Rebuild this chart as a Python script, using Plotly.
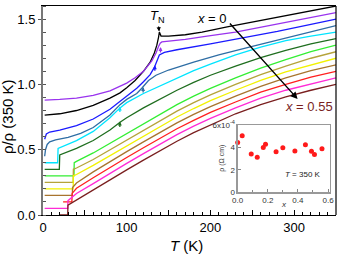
import plotly.graph_objects as go

# ---------------- main panel data: rho/rho(350 K), curves offset by 0.05 ----------------
T_x000 = [2, 10, 20, 40, 60, 80, 92, 100, 110, 120, 128, 133, 136, 138, 139, 141, 150, 170, 190, 220, 260, 300, 350]
R_x000 = [0.765, 0.767, 0.775, 0.80, 0.84, 0.895, 0.935, 0.975, 1.03, 1.10, 1.17, 1.24, 1.30, 1.36, 1.40, 1.37, 1.37, 1.38, 1.40, 1.44, 1.49, 1.54, 1.60]

T_x003 = [2, 10, 20, 40, 60, 80, 92, 100, 110, 120, 130, 135, 138, 140, 142, 150, 170, 196, 230, 270, 310, 350]
R_x003 = [0.88, 0.88, 0.885, 0.895, 0.915, 0.95, 0.985, 1.01, 1.05, 1.10, 1.18, 1.24, 1.29, 1.315, 1.325, 1.33, 1.345, 1.37, 1.40, 1.45, 1.50, 1.55]

T_x009 = [2, 4, 8, 20, 40, 60, 80, 92, 100, 112, 120, 128, 133, 136, 139, 145, 160, 200, 240, 280, 320, 350]
R_x009 = [0.58, 0.62, 0.635, 0.65, 0.685, 0.735, 0.81, 0.87, 0.91, 0.97, 1.02, 1.075, 1.13, 1.18, 1.225, 1.245, 1.265, 1.31, 1.355, 1.405, 1.46, 1.50]

T_x013 = [2, 3, 5, 8, 15, 30, 45, 60, 80, 92, 100, 112, 118, 122, 126, 135, 150, 180, 210, 250, 290, 320, 350]
R_x013 = [0.45, 0.50, 0.54, 0.56, 0.575, 0.595, 0.625, 0.67, 0.765, 0.845, 0.885, 0.93, 0.97, 1.0, 1.03, 1.07, 1.11, 1.17, 1.225, 1.29, 1.355, 1.405, 1.45]

T_x017 = [2, 17.5, 18, 25, 40, 60, 80, 92, 100, 120, 140, 160, 180, 200, 230, 260, 290, 320, 350]
R_x017 = [0.40, 0.40, 0.51, 0.53, 0.57, 0.64, 0.745, 0.82, 0.86, 0.93, 0.99, 1.05, 1.105, 1.155, 1.225, 1.285, 1.335, 1.37, 1.40]

T_x018 = [2, 19.5, 20, 30, 40, 60, 80, 92, 100, 120, 140, 160, 180, 200, 230, 260, 290, 320, 350]
R_x018 = [0.35, 0.35, 0.46, 0.485, 0.51, 0.57, 0.65, 0.71, 0.745, 0.82, 0.89, 0.955, 1.015, 1.07, 1.14, 1.205, 1.26, 1.31, 1.35]

T_x025 = [2, 37, 37.3, 40, 60, 80, 100, 120, 140, 160, 180, 200, 230, 260, 290, 320, 350]
R_x025 = [0.30, 0.30, 0.40, 0.41, 0.475, 0.55, 0.625, 0.70, 0.775, 0.845, 0.91, 0.97, 1.05, 1.125, 1.19, 1.25, 1.30]

T_x030 = [2, 36, 36.3, 40, 60, 80, 100, 120, 140, 160, 180, 200, 230, 260, 290, 320, 350]
R_x030 = [0.25, 0.25, 0.35, 0.36, 0.425, 0.50, 0.575, 0.65, 0.725, 0.795, 0.86, 0.92, 1.00, 1.075, 1.14, 1.20, 1.25]

T_x038 = [2, 36, 36.3, 40, 60, 80, 100, 120, 140, 160, 180, 200, 230, 260, 290, 320, 350]
R_x038 = [0.20, 0.20, 0.30, 0.31, 0.38, 0.455, 0.53, 0.605, 0.68, 0.75, 0.815, 0.875, 0.955, 1.03, 1.095, 1.15, 1.20]

T_x045 = [2, 35, 35.3, 40, 60, 80, 100, 120, 140, 160, 180, 200, 230, 260, 290, 320, 350]
R_x045 = [0.15, 0.15, 0.21, 0.245, 0.33, 0.41, 0.485, 0.56, 0.635, 0.705, 0.77, 0.83, 0.91, 0.985, 1.05, 1.105, 1.15]

T_x049 = [24, 34.5, 34.8, 40, 60, 80, 100, 120, 140, 160, 180, 200, 230, 260, 290, 320, 350]
R_x049 = [0.10, 0.10, 0.165, 0.205, 0.285, 0.365, 0.44, 0.515, 0.59, 0.66, 0.725, 0.785, 0.865, 0.94, 1.0, 1.055, 1.10]

T_x051 = [2, 29.5, 29.8, 40, 60, 80, 100, 120, 140, 160, 180, 200, 230, 260, 290, 320, 350]
R_x051 = [0.05, 0.05, 0.11, 0.165, 0.24, 0.32, 0.395, 0.47, 0.545, 0.615, 0.68, 0.74, 0.82, 0.895, 0.955, 1.005, 1.05]

T_x055 = [20, 29.5, 29.8, 40, 60, 80, 100, 120, 140, 160, 180, 200, 230, 260, 290, 320, 350]
R_x055 = [0.0, 0.0, 0.075, 0.115, 0.19, 0.27, 0.345, 0.42, 0.495, 0.565, 0.63, 0.69, 0.775, 0.845, 0.905, 0.955, 1.00]

curves = [
    (T_x000, R_x000, '#000000'),
    (T_x003, R_x003, '#9933ee'),
    (T_x009, R_x009, '#1a1aff'),
    (T_x013, R_x013, '#2e6da4'),
    (T_x017, R_x017, '#00e5ff'),
    (T_x018, R_x018, '#1f6e1f'),
    (T_x025, R_x025, '#33ee33'),
    (T_x030, R_x030, '#b5a33a'),
    (T_x038, R_x038, '#f2f200'),
    (T_x045, R_x045, '#a8742e'),
    (T_x049, R_x049, '#ff1f1f'),
    (T_x051, R_x051, '#ff2bd6'),
    (T_x055, R_x055, '#7a1f1f'),
]

# T_N markers (T, rho/rho350) on the curves
TN_T = [140.4, 133.6, 119.6, 91.8, 91.8]
TN_R = [1.286, 1.146, 0.980, 0.830, 0.715]
TN_C = ['#9933ee', '#1a1aff', '#2e6da4', '#00e5ff', '#1f6e1f']

# ---------------- inset data: rho(350 K) vs x ----------------
x_K = [0.0, 0.03, 0.09, 0.13, 0.17, 0.185, 0.255, 0.30, 0.38, 0.45, 0.49, 0.51, 0.56]
rho350 = [4.42, 5.02, 3.4, 3.12, 3.98, 4.27, 3.6, 3.95, 3.68, 4.22, 3.65, 3.35, 3.88]

FONT = 'Arial, "Liberation Sans", sans-serif'

fig = go.Figure()
for T, R, c in curves:
    fig.add_trace(go.Scatter(x=T, y=R, mode='lines', line=dict(color=c, width=1.3),
                             hoverinfo='skip'))

fig.add_trace(go.Scatter(x=x_K, y=rho350, xaxis='x2', yaxis='y2', mode='markers',
                         marker=dict(color='#ff1a1a', size=5), cliponaxis=False,
                         hoverinfo='skip'))

C = dict(xanchor='center', yanchor='middle')
ann = []
ann.append(dict(x=138.8, y=1.405, xref='x', yref='y', text='<i>T</i><sub>N</sub>',
                showarrow=True, arrowhead=2, arrowsize=0.7, arrowwidth=1.2, arrowcolor='black',
                ax=-2, ay=-15, font=dict(size=13, color='black')))
ann.append(dict(x=202.0, y=1.505, xref='x', yref='y', text='<i>x</i> = 0', showarrow=False,
                font=dict(size=13, color='black'), **C))
ann.append(dict(x=304.1, y=0.888, xref='x', yref='y', text='', showarrow=True,
                arrowhead=2, arrowsize=1.0, arrowwidth=1.4, arrowcolor='black',
                axref='pixel', ayref='pixel', ax=-69, ay=-77))
ann.append(dict(x=317.8, y=0.827, xref='x', yref='y', text='<i>x</i> = 0.55', showarrow=False,
                font=dict(size=13, color='#7a1f1f'), **C))
for t, r, c in zip(TN_T, TN_R, TN_C):
    ann.append(dict(x=t, y=r, xref='x', yref='y', text='', showarrow=True, arrowhead=2,
                    arrowsize=0.6, arrowwidth=1.3, arrowcolor=c, ax=0, ay=7))
ann.append(dict(x=-0.119, y=0.469, xref='paper', yref='paper', text='ρ/ρ (350 K)', textangle=-90,
                showarrow=False, font=dict(size=15, color='black'), **C))
ann.append(dict(x=0.49, y=-0.148, xref='paper', yref='paper', text='<i>T</i> (K)',
                showarrow=False, font=dict(size=15, color='black'), **C))
ann.append(dict(x=0.431, y=1.54, xref='x2', yref='y2', text='<i>T</i> = 350 K', showarrow=False,
                font=dict(size=8, color='#222'), **C))
ann.append(dict(x=0.61, y=0.273, xref='paper', yref='paper', text='ρ (Ω cm)', textangle=-90,
                showarrow=False, font=dict(size=7, color='#333'), **C))
ann.append(dict(x=0.821, y=0.048, xref='paper', yref='paper', text='<i>x</i>', showarrow=False,
                font=dict(size=8, color='#333'), **C))

fig.update_layout(
    template='none',
    width=346, height=259,
    margin=dict(l=43, r=9.5, t=6, b=44, pad=0, autoexpand=False),
    paper_bgcolor='white', plot_bgcolor='white',
    showlegend=False, hovermode=False,
    font=dict(family=FONT, size=13, color='black'),
    annotations=ann,
    shapes=[dict(type='line', xref='paper', yref='paper', x0=1, x1=1, y0=0, y1=1,
                 line=dict(color='black', width=1.2))],
    xaxis=dict(range=[0, 350], tickvals=[0, 50, 100, 150, 200, 250, 300, 350],
               ticktext=['0', '', '100', '', '200', '', '300', ''], automargin=False,
               ticks='inside', ticklen=5, tickwidth=1, tickcolor='black',
               minor=dict(dtick=10, ticks='inside', ticklen=3, tickcolor='black'),
               showline=True, linecolor='black', linewidth=1.2, mirror=True,
               showgrid=False, zeroline=False, tickfont=dict(size=13)),
    yaxis=dict(range=[0, 1.6], tickvals=[0, 0.5, 1.0, 1.5], ticktext=['0.0', '0.5', '1.0', '1.5'],
               automargin=False,
               ticks='outside', ticklen=3, tickcolor='#555',
               minor=dict(dtick=0.1, ticks='inside', ticklen=3, tickcolor='#555'),
               showline=True, linecolor='#777', linewidth=2, mirror=False,
               showgrid=False, zeroline=False, tickfont=dict(size=13)),
    xaxis2=dict(domain=[0.6644, 0.9779], anchor='y2', range=[0, 0.61], automargin=False,
                tickvals=[0, 0.2, 0.4, 0.6], ticktext=['0.0', '0.2', '0.4', '0.6'],
                ticks='inside', ticklen=3, tickcolor='#888',
                minor=dict(dtick=0.1, ticks='inside', ticklen=2, tickcolor='#888'),
                showline=True, linecolor='#999', linewidth=1.2, mirror=True,
                showgrid=False, zeroline=False, tickfont=dict(size=8, color='#333')),
    yaxis2=dict(domain=[0.1086, 0.4316], anchor='x2', range=[0, 6], automargin=False,
                tickvals=[0, 2, 4, 6], ticktext=['0', '2', '4', '6x10<sup>-4</sup>'],
                ticks='inside', ticklen=3, tickcolor='#888',
                showline=True, linecolor='#999', linewidth=1.2, mirror=True,
                showgrid=False, zeroline=False, tickfont=dict(size=8, color='#333')),
)

fig.write_html("out.html", config={'displayModeBar': False, 'staticPlot': True},
               post_script="document.body.style.margin='0';document.body.style.padding='0';")
